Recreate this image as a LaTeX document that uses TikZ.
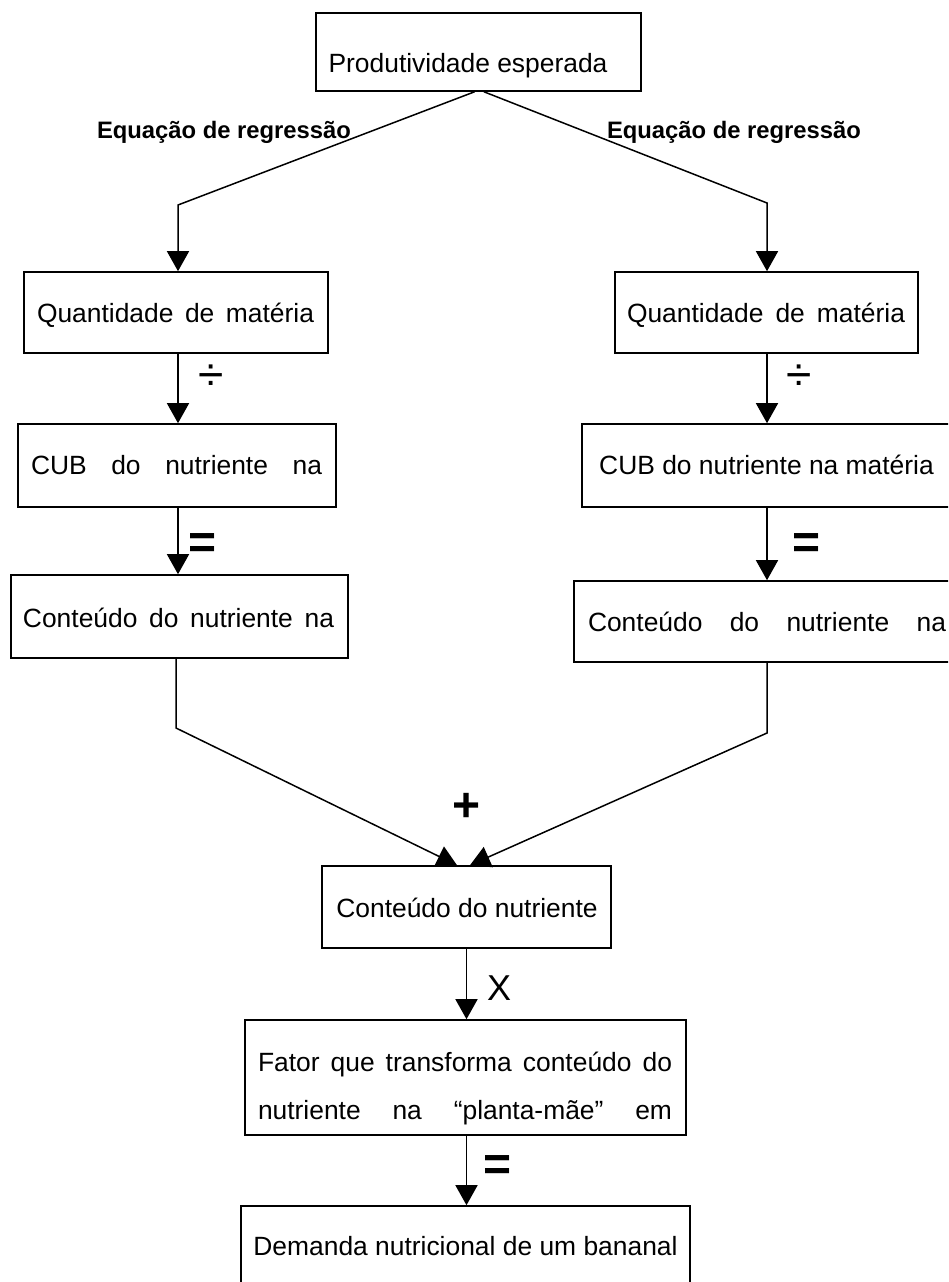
\documentclass[tikz,border=0pt]{standalone}
\usepackage{fontspec}
\setmainfont{Liberation Sans}
\usetikzlibrary{arrows.meta}
\begin{document}
\begin{tikzpicture}[x=1pt,y=-1pt,
  box/.style={draw, line width=1.6pt, fill=white, rectangle, inner sep=0pt},
  txt/.style={font=\fontsize{26.4}{30}\selectfont, inner sep=0pt, anchor=base},
  lbl/.style={font=\bfseries\fontsize{23.8}{28}\selectfont, inner sep=0pt, anchor=base},
  sym/.style={inner sep=0pt},
  conn/.style={line width=1.5pt},
  arr/.style={conn, -{Triangle[width=22pt,length=20pt]}},
]
\useasboundingbox (0,0) rectangle (948,1282);
\clip (0,0) rectangle (948,1282);

% boxes
\node[box, minimum width=325pt, minimum height=78pt] (top) at (478.5,52) {};
\node[box, minimum width=304pt, minimum height=81pt] (QL) at (176,312.5) {};
\node[box, minimum width=303pt, minimum height=81pt] (QR) at (766.5,312.5) {};
\node[box, minimum width=318pt, minimum height=83pt] (CL) at (177,465.5) {};
\node[box, minimum width=380pt, minimum height=83pt] (CR) at (772,465.5) {};
\node[box, minimum width=337pt, minimum height=83pt] (ConL) at (179.5,616.5) {};
\node[box, minimum width=390pt, minimum height=81pt] (ConR) at (769,621.5) {};
\node[box, minimum width=289pt, minimum height=82pt] (Cen) at (466.5,907) {};
\node[box, minimum width=441pt, minimum height=115pt] (Fat) at (465.5,1077.5) {};
\node[box, minimum width=449pt, minimum height=110pt] (Dem) at (465.5,1261) {};

% texts
\node[txt] (tTop) at (468,72.5) {Produtividade esperada};
\node[txt] (tQL) at (175.5,322.5) {\makebox[277pt][s]{Quantidade de matéria}};
\node[txt] (tQR) at (766,322.5) {\makebox[278pt][s]{Quantidade de matéria}};
\node[txt] (tCL) at (176.5,474.5) {\makebox[291pt][s]{CUB do nutriente na}};
\node[txt] (tCR) at (766.5,474.5) {CUB do nutriente na matéria};
\node[txt] (tConL) at (178.5,627.5) {\makebox[311pt][s]{Conteúdo do nutriente na}};
\node[txt] (tConR) at (767,631.5) {\makebox[358pt][s]{Conteúdo do nutriente na}};
\node[txt] (tCen) at (467,917) {Conteúdo do nutriente};
\node[txt] (tFat1) at (465,1071.5) {\makebox[414pt][s]{Fator que transforma conteúdo do}};
\node[txt] (tFat2) at (465,1119.5) {\makebox[414pt][s]{nutriente na “planta-mãe” em}};
\node[txt] (tDem) at (465.5,1255.5) {Demanda nutricional de um bananal};

% labels
\node[lbl] (eqL) at (224,138.5) {Equação de regressão};
\node[lbl] (eqR) at (734,138.5) {Equação de regressão};

% connector bends
\coordinate (lc) at (178,205);
\coordinate (rc) at (767,203);
\coordinate (lb) at (176,728);
\coordinate (rb) at (767,733);

% connectors
\draw[arr] ([xshift=-4pt]top.south) -- (lc) -- (lc |- QL.north);
\draw[arr] ([xshift=5.5pt]top.south) -- (rc) -- (rc |- QR.north);
\draw[arr] (lc |- QL.south) -- (lc |- CL.north);
\draw[arr] (lc |- CL.south) -- (lc |- ConL.north);
\draw[arr] (rc |- QR.south) -- (rc |- CR.north);
\draw[arr] (rc |- CR.south) -- (rc |- ConR.north);
\draw[arr] (lb |- ConL.south) -- (lb) -- ([xshift=-9.5pt]Cen.north);
\draw[arr] (rb |- ConR.south) -- (rb) -- ([xshift=3.5pt]Cen.north);
\draw[arr] (Cen.south) -- (Cen.south |- Fat.north);
\draw[arr] (Cen.south |- Fat.south) -- (Cen.south |- Dem.north);

% operator symbols
\node[sym, font=\fontsize{46}{50}\selectfont] (divL) at (211.5,378) {÷};
\node[sym, font=\fontsize{46}{50}\selectfont] (divR) at (799,378) {÷};
\node[sym, font=\bfseries\fontsize{48}{50}\selectfont] (eqsL) at (203,546) {=};
\node[sym, font=\bfseries\fontsize{48}{50}\selectfont] (eqsR) at (807,546) {=};
\node[sym, font=\bfseries\fontsize{48}{50}\selectfont] (plus) at (467,807) {+};
\node[sym, font=\fontsize{36}{40}\selectfont] (times) at (499,988) {X};
\node[sym, font=\bfseries\fontsize{48}{50}\selectfont] (eqsB) at (498,1168) {=};
\end{tikzpicture}
\end{document}
